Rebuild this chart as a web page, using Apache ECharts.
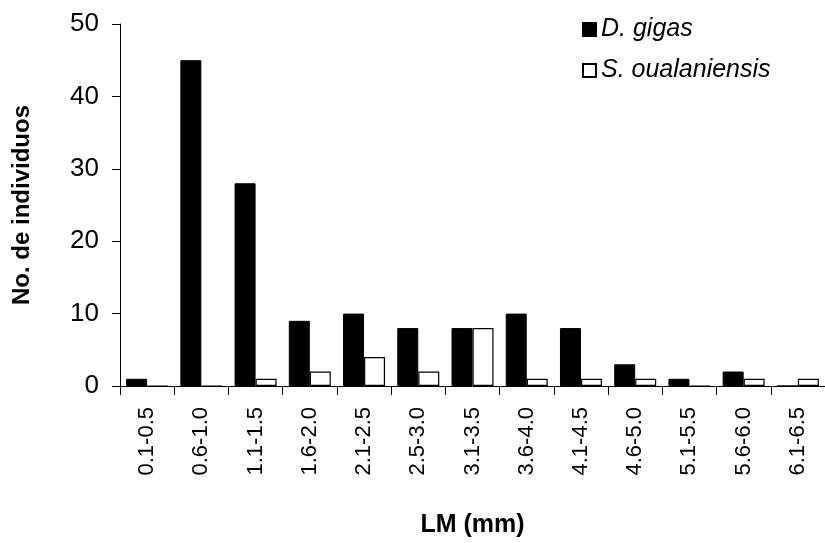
<!DOCTYPE html>
<html>
<head>
<meta charset="utf-8">
<script src="https://cdn.jsdelivr.net/npm/echarts@6/dist/echarts.min.js"></script>
<style>html,body{margin:0;padding:0;background:#fff;}#c{width:825px;height:543px;}</style>
</head>
<body>
<div id="c"></div>
<script>
var categories = ['0.1-0.5','0.6-1.0','1.1-1.5','1.6-2.0','2.1-2.5','2.5-3.0','3.1-3.5','3.6-4.0','4.1-4.5','4.6-5.0','5.1-5.5','5.6-6.0','6.1-6.5'];
var dGigas = [1, 45, 28, 9, 10, 8, 8, 10, 8, 3, 1, 2, 0];
var sOualaniensis = [0, 0, 1, 2, 4, 2, 8, 1, 1, 1, 0, 1, 1];
var yTicks = [0, 10, 20, 30, 40, 50];

var FONT = 'Liberation Sans, Arial, sans-serif';
var chart = echarts.init(document.getElementById('c'), null, {renderer: 'canvas'});
chart.setOption({
  animation: false,
  backgroundColor: '#fff',
  textStyle: {fontFamily: FONT, color: '#000'},
  grid: {left: 120, top: 24, width: 714, height: 365, containLabel: false},
  legend: {
    orient: 'vertical',
    left: 577, top: 12,
    itemWidth: 13, itemHeight: 13, itemGap: 16,
    icon: 'rect',
    textStyle: {fontFamily: FONT, fontSize: 25, fontStyle: 'italic', color: '#000'},
    data: ['D. gigas', 'S. oualaniensis']
  },
  xAxis: {
    type: 'category',
    data: categories,
    name: 'LM (mm)',
    nameLocation: 'middle',
    nameGap: 127,
    nameTextStyle: {fontFamily: FONT, fontSize: 25, fontWeight: 'bold', color: '#000'},
    axisLine: {lineStyle: {color: '#000', width: 1}},
    axisTick: {show: true, length: 9, lineStyle: {color: '#000'}},
    axisLabel: {rotate: 90, margin: 21, fontFamily: FONT, fontSize: 22, color: '#000', interval: 0},
    splitLine: {show: false}
  },
  yAxis: {
    type: 'value',
    min: yTicks[0], max: yTicks[yTicks.length - 1], interval: 10,
    name: 'No. de individuos',
    nameLocation: 'middle',
    nameGap: 86,
    nameRotate: 90,
    nameTextStyle: {fontFamily: FONT, fontSize: 24, fontWeight: 'bold', color: '#000'},
    axisLine: {show: true, lineStyle: {color: '#000', width: 1}},
    axisTick: {show: true, length: 8, lineStyle: {color: '#000'}},
    axisLabel: {margin: 21, fontFamily: FONT, fontSize: 26, color: '#000'},
    splitLine: {show: false}
  },
  series: [
    {
      name: 'D. gigas', type: 'bar', data: dGigas,
      barWidth: 21, barGap: '0%',
      itemStyle: {color: '#000', borderColor: '#000', borderWidth: 1}
    },
    {
      name: 'S. oualaniensis', type: 'bar', data: sOualaniensis,
      barWidth: 21,
      itemStyle: {color: '#fff', borderColor: '#000', borderWidth: 1.2}
    }
  ]
});
</script>
</body>
</html>
